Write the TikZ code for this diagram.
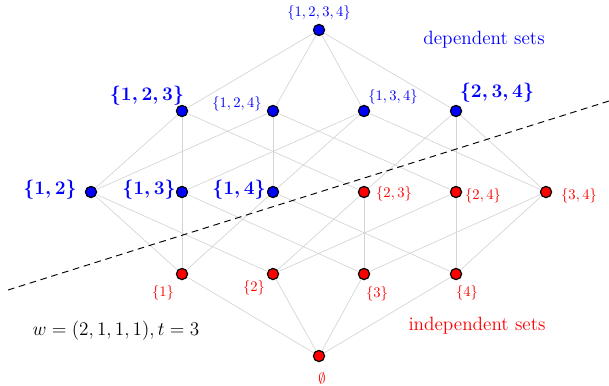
\documentclass[tikz,border=0pt]{standalone}
\begin{document}
\begin{tikzpicture}[x=0.75pt,y=-0.75pt,
  vset/.style={circle,draw=black,line width=0.9pt,inner sep=0pt,minimum size=8.4pt},
  dep/.style={vset,fill=blue},
  ind/.style={vset,fill=red},
  edge/.style={draw=black!17,line width=0.5pt},
  small/.style={font=\fontsize{11}{13}\selectfont,inner sep=0pt},
  sblue/.style={small,text=blue},
  sred/.style={small,text=red},
  big/.style={font=\fontsize{15.4}{18}\selectfont\boldmath,text=blue,inner sep=0pt}]
\useasboundingbox (0,0) rectangle (609,385);
% vertices
\node[dep] (a1234) at (319,30) {};
\node[dep] (a123) at (182,111) {};
\node[dep] (a124) at (273,111) {};
\node[dep] (a134) at (364,111) {};
\node[dep] (a234) at (456,111) {};
\node[dep] (a12) at (91,192) {};
\node[dep] (a13) at (182,192) {};
\node[dep] (a14) at (273,192) {};
\node[ind] (a23) at (364,192) {};
\node[ind] (a24) at (456,192) {};
\node[ind] (a34) at (546,192) {};
\node[ind] (a1) at (182,274) {};
\node[ind] (a2) at (273,274) {};
\node[ind] (a3) at (364,274) {};
\node[ind] (a4) at (456,274) {};
\node[ind] (a0) at (319,356) {};
% edges
\foreach \u/\v in {a1234/a123,a1234/a124,a1234/a134,a1234/a234,
  a123/a12,a123/a13,a123/a23,a124/a12,a124/a14,a124/a24,
  a134/a13,a134/a14,a134/a34,a234/a23,a234/a24,a234/a34,
  a12/a1,a12/a2,a13/a1,a13/a3,a14/a1,a14/a4,a23/a2,a23/a3,a24/a2,a24/a4,a34/a3,a34/a4,
  a1/a0,a2/a0,a3/a0,a4/a0}
  \path[edge] (\u) -- (\v);
% labels
\node[sblue] (l1234) at (319,13) {$\{1,2,3,4\}$};
\node[big] (l123) at (147,96) {$\{1,2,3\}$};
\node[sblue] (l124) at (237,104) {$\{1,2,4\}$};
\node[sblue] (l134) at (393,97) {$\{1,3,4\}$};
\node[big] (l234) at (497,93) {$\{2,3,4\}$};
\node[big] (l12) at (50,190) {$\{1,2\}$};
\node[big] (l13) at (149,190) {$\{1,3\}$};
\node[big] (l14) at (239,190) {$\{1,4\}$};
\node[sred] (l23) at (394,194) {$\{2,3\}$};
\node[sred] (l24) at (483,196) {$\{2,4\}$};
\node[sred] (l34) at (579,196) {$\{3,4\}$};
\node[sred] (l1) at (163,293) {$\{1\}$};
\node[sred] (l2) at (254,288) {$\{2\}$};
\node[sred] (l3) at (377,294) {$\{3\}$};
\node[sred] (l4) at (467,293) {$\{4\}$};
\node[sred] (l0) at (322,378) {$\emptyset$};
\node[font=\Large,text=blue,inner sep=0pt] (tdep) at (484,40) {dependent sets};
\node[font=\Large,text=red,inner sep=0pt] (tind) at (477,326) {independent sets};
\node[font=\Large,inner sep=0pt] (tw) at (116,331) {$w=(2,1,1,1),t=3$};
% threshold line
\coordinate (d1) at (8,290);
\coordinate (d2) at (609,101);
\draw[dash pattern=on 5pt off 3.5pt,line width=0.7pt] (d1) -- (d2);
\end{tikzpicture}
\end{document}
